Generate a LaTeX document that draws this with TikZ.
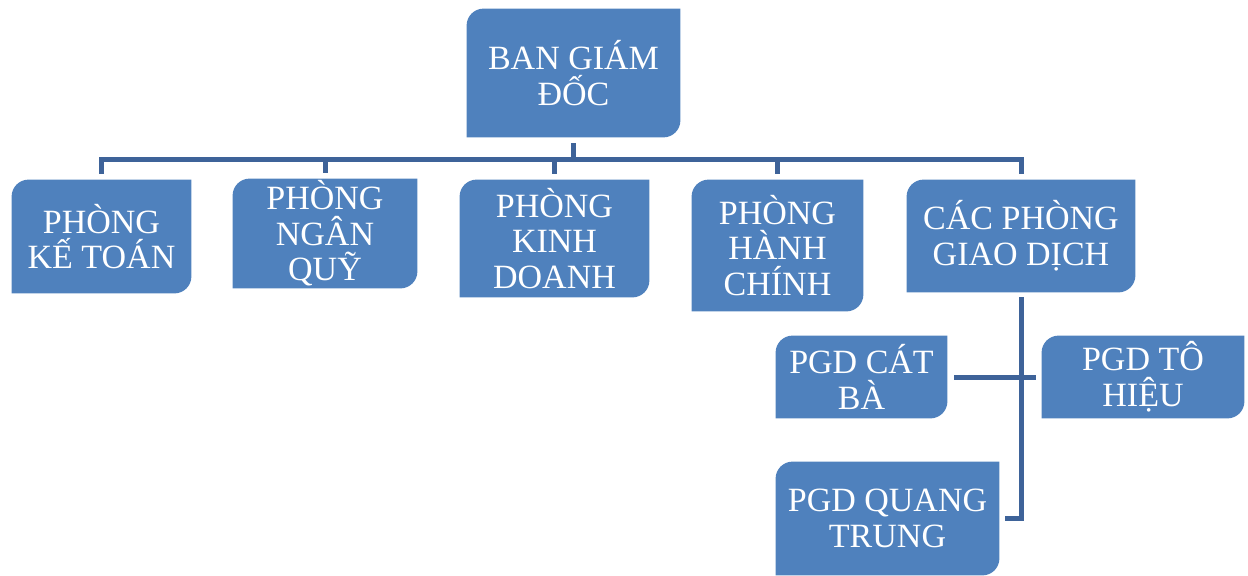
\documentclass[tikz,border=0pt]{standalone}
\usepackage{fontspec}
\setmainfont{Liberation Serif}
\usepackage{tikz}
\usetikzlibrary{backgrounds}
\definecolor{boxblue}{HTML}{4F81BD}
\definecolor{linkblue}{HTML}{3E6399}

\begin{document}
\begin{tikzpicture}[
  x=0.5pt,y=-0.5pt,
  box/.style={inner sep=0pt,align=center,text=white,font=\fontsize{17pt}{17.8pt}\selectfont},
  link/.style={draw=linkblue,line width=2.5pt,line cap=rect}
]
\useasboundingbox (0,0) rectangle (1248,575);
\node[box,minimum width=106.5pt,minimum height=64pt] (bgd) at (573.5,73) {BAN GIÁM\\ĐỐC};
\node[box,minimum width=89.5pt,minimum height=56.5pt] (ketoan) at (101.5,236.5) {PHÒNG\\KẾ TOÁN};
\node[box,minimum width=92pt,minimum height=54.5pt] (nganquy) at (325,233.5) {PHÒNG\\NGÂN\\QUỸ};
\node[box,minimum width=94.5pt,minimum height=58.5pt] (kinhdoanh) at (554.5,238.5) {PHÒNG\\KINH\\DOANH};
\node[box,minimum width=85.5pt,minimum height=65.5pt] (hanhchinh) at (777.5,245.5) {PHÒNG\\HÀNH\\CHÍNH};
\node[box,minimum width=114pt,minimum height=56pt] (cacpgd) at (1021,236) {CÁC PHÒNG\\GIAO DỊCH};
\node[box,minimum width=85.5pt,minimum height=41pt] (catba) at (861.5,377) {PGD CÁT\\BÀ};
\node[box,minimum width=101pt,minimum height=41pt] (tohieu) at (1143,377) {PGD TÔ\\HIỆU};
\node[box,minimum width=111.5pt,minimum height=56.5pt] (quangtrung) at (887.5,518.5) {PGD QUANG\\TRUNG};
% box shapes: round top left and bottom right
\begin{pgfonlayer}{background}
\foreach \n in {bgd,ketoan,nganquy,kinhdoanh,hanhchinh,cacpgd,catba,tohieu,quangtrung}
  \fill[boxblue] (\n.south west) -- ([yshift=-8.5pt]\n.north west)
    .. controls ([yshift=-3.8pt]\n.north west) and ([xshift=3.8pt]\n.north west) .. ([xshift=8.5pt]\n.north west)
    -- (\n.north east) -- ([yshift=8.5pt]\n.south east)
    .. controls ([yshift=3.8pt]\n.south east) and ([xshift=-3.8pt]\n.south east) .. ([xshift=-8.5pt]\n.south east)
    -- cycle;
\end{pgfonlayer}
% connectors
\coordinate (bus) at (573.5,159);
\draw[link] ([yshift=-4.1pt]bgd.south) -- (bus);
\draw[link] (bus -| ketoan.north) -- (bus -| cacpgd.north);
\foreach \n in {ketoan,nganquy,kinhdoanh,hanhchinh,cacpgd}
  \draw[link] (bus -| \n.north) -- ([yshift=4.25pt]\n.north);
\draw[link] ([yshift=-3.6pt]cacpgd.south) |- ([xshift=4.25pt]quangtrung.east);
\draw[link] ([xshift=4.4pt]catba.east) -- ([xshift=-4.25pt]tohieu.west);
\end{tikzpicture}
\end{document}
